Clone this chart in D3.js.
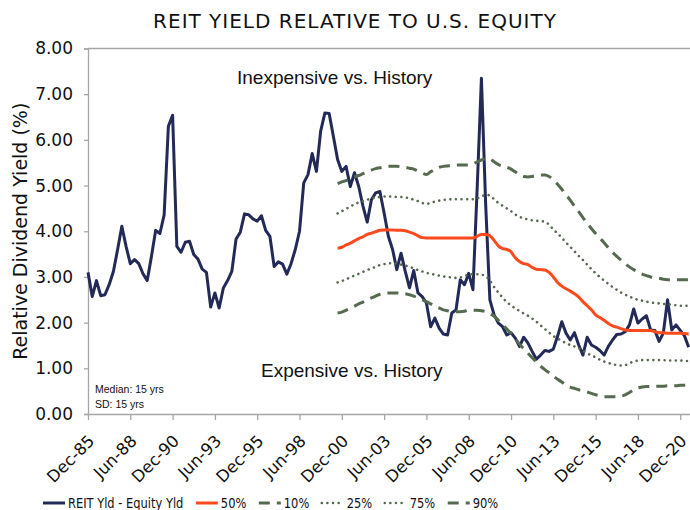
<!DOCTYPE html>
<html><head><meta charset="utf-8">
<script src="https://cdn.jsdelivr.net/npm/d3@7/dist/d3.min.js"></script>
<style>body{margin:0;background:#fff}</style>
</head><body>
<svg id="chart" width="690" height="510"></svg>
<script>
// ---- data (quarterly, Dec-85 .. Jun-21) ----
const tickLabels = ["Dec-85","Jun-88","Dec-90","Jun-93","Dec-95","Jun-98","Dec-00","Jun-03","Dec-05","Jun-08","Dec-10","Jun-13","Dec-15","Jun-18","Dec-20"];
const yTicks = [0,1,2,3,4,5,6,7,8];
const reitYield = [
 3.10,2.57,2.92,2.59,2.61,2.83,3.12,3.60,4.11,3.67,
 3.29,3.38,3.29,3.07,2.92,3.45,4.02,3.95,4.36,6.30,
 6.54,3.67,3.54,3.76,3.78,3.49,3.39,3.17,3.10,2.34,
 2.65,2.32,2.76,2.92,3.12,3.83,3.98,4.38,4.36,4.27,
 4.22,4.34,4.02,3.89,3.23,3.33,3.28,3.06,3.29,3.60,
 4.00,5.06,5.24,5.70,5.31,6.19,6.59,6.58,6.08,5.57,
 5.31,5.42,4.98,5.28,4.98,4.55,4.20,4.69,4.84,4.87,
 4.40,3.89,3.60,3.16,3.52,3.12,2.76,3.14,2.65,2.57,
 2.43,1.91,2.10,1.88,1.75,1.73,2.21,2.28,2.94,2.83,
 3.08,2.72,4.95,7.35,4.60,2.50,2.17,1.99,1.91,1.73,
 1.78,1.66,1.48,1.68,1.55,1.37,1.20,1.29,1.39,1.37,
 1.42,1.70,2.02,1.77,1.62,1.78,1.51,1.29,1.68,1.51,
 1.46,1.39,1.29,1.48,1.62,1.74,1.75,1.80,1.95,2.30,
 1.99,2.08,2.15,1.84,1.83,1.59,1.77,2.50,1.84,1.95,
 1.83,1.71,1.46];
const bandStartIndex = 59; // bands begin Sep-00
const p50 = [
 3.63,3.65,3.70,3.74,3.79,3.84,3.88,3.93,3.96,3.99,
 4.02,4.03,4.03,4.03,4.02,4.02,4.01,3.98,3.95,3.90,
 3.86,3.85,3.85,3.85,3.85,3.85,3.85,3.85,3.85,3.85,
 3.85,3.85,3.85,3.89,3.93,3.93,3.90,3.80,3.68,3.62,
 3.60,3.55,3.42,3.34,3.29,3.27,3.21,3.17,3.16,3.15,
 3.10,3.00,2.88,2.80,2.74,2.69,2.63,2.56,2.46,2.37,
 2.28,2.17,2.11,2.05,1.98,1.93,1.90,1.87,1.84,1.83,
 1.83,1.83,1.83,1.83,1.83,1.80,1.78,1.78,1.77,1.77,
 1.77,1.77,1.76,1.75];
const p10 = [
 2.21,2.23,2.27,2.31,2.36,2.41,2.45,2.50,2.54,2.58,
 2.62,2.64,2.65,2.65,2.65,2.64,2.63,2.61,2.58,2.54,
 2.50,2.46,2.41,2.36,2.32,2.28,2.26,2.24,2.24,2.24,
 2.25,2.27,2.27,2.27,2.26,2.24,2.20,2.14,2.05,1.96,
 1.86,1.76,1.65,1.53,1.43,1.33,1.23,1.14,1.05,0.97,
 0.90,0.83,0.76,0.70,0.63,0.59,0.56,0.53,0.51,0.48,
 0.45,0.42,0.40,0.38,0.38,0.38,0.38,0.39,0.42,0.47,
 0.53,0.57,0.59,0.60,0.60,0.61,0.61,0.61,0.62,0.62,
 0.62,0.63,0.63,0.63];
const p25 = [
 2.88,2.91,2.95,2.99,3.03,3.07,3.11,3.15,3.19,3.22,
 3.26,3.28,3.30,3.30,3.29,3.27,3.25,3.22,3.19,3.15,
 3.12,3.09,3.07,3.05,3.03,3.01,3.00,2.99,2.98,2.99,
 3.02,3.05,3.06,3.06,3.05,3.02,2.92,2.78,2.66,2.55,
 2.45,2.38,2.31,2.26,2.20,2.15,2.09,2.02,1.94,1.86,
 1.78,1.71,1.65,1.60,1.55,1.51,1.48,1.44,1.38,1.33,
 1.28,1.24,1.19,1.15,1.12,1.09,1.07,1.06,1.07,1.11,
 1.15,1.17,1.18,1.18,1.18,1.18,1.18,1.18,1.17,1.17,
 1.17,1.17,1.16,1.16];
const p75 = [
 4.39,4.44,4.49,4.54,4.59,4.63,4.66,4.69,4.72,4.74,
 4.75,4.76,4.76,4.76,4.75,4.75,4.74,4.72,4.69,4.66,
 4.62,4.60,4.62,4.65,4.67,4.69,4.69,4.70,4.70,4.70,
 4.70,4.70,4.70,4.72,4.76,4.80,4.78,4.70,4.62,4.56,
 4.50,4.44,4.37,4.32,4.28,4.26,4.24,4.23,4.22,4.21,
 4.14,4.04,3.95,3.86,3.75,3.66,3.56,3.46,3.37,3.27,
 3.17,3.08,3.00,2.92,2.85,2.78,2.72,2.66,2.61,2.57,
 2.53,2.50,2.48,2.46,2.44,2.43,2.42,2.41,2.40,2.39,
 2.38,2.37,2.37,2.37];
const p90 = [
 5.04,5.08,5.11,5.15,5.19,5.22,5.26,5.30,5.34,5.37,
 5.39,5.41,5.42,5.42,5.42,5.41,5.40,5.38,5.36,5.32,
 5.28,5.24,5.30,5.36,5.40,5.42,5.43,5.44,5.45,5.45,
 5.45,5.45,5.47,5.52,5.56,5.59,5.58,5.52,5.46,5.42,
 5.40,5.36,5.30,5.24,5.20,5.19,5.20,5.22,5.23,5.23,
 5.20,5.12,5.03,4.92,4.80,4.68,4.55,4.43,4.30,4.18,
 4.06,3.95,3.85,3.75,3.64,3.54,3.45,3.37,3.29,3.22,
 3.16,3.11,3.06,3.03,3.00,2.98,2.97,2.95,2.94,2.94,
 2.94,2.94,2.94,2.94];
const seriesNames = ["REIT Yld - Equity Yld","50%","10%","25%","75%","90%"];

(function draw() {
  const NAVY = "#232a57", RED = "#ff4a1e", GREEN = "#566a4f", AXIS = "#a6a6a6";
  const styles = {
    "REIT Yld - Equity Yld": {color: NAVY, width: 3, dash: null, cap: "butt"},
    "50%": {color: RED, width: 3, dash: null, cap: "butt"},
    "10%": {color: GREEN, width: 3, dash: "11,7", cap: "butt"},
    "25%": {color: GREEN, width: 2.6, dash: "0.01,5.6", cap: "round"},
    "75%": {color: GREEN, width: 2.6, dash: "0.01,5.6", cap: "round"},
    "90%": {color: GREEN, width: 3, dash: "11,7", cap: "butt"}
  };

  const svg = d3.select("#chart");
  const pL = 88, pR = 688.7, pT = 48.5, pB = 414;
  const x = d3.scaleLinear().domain([0, reitYield.length - 1]).range([pL, pR]);
  const y = d3.scaleLinear().domain([0, 8]).range([pB, pT]);

  svg.append("text").attr("x", 355).attr("y", 28)
    .attr("text-anchor", "middle")
    .style("font-family", "DejaVu Sans").style("font-size", "20px")
    .style("letter-spacing", "1px").attr("fill", "#111")
    .text("REIT YIELD RELATIVE TO U.S. EQUITY");

  svg.append("line").attr("x1", pL).attr("x2", 690).attr("y1", pT).attr("y2", pT)
    .attr("stroke", AXIS).attr("stroke-width", 1.3);

  const yAxis = svg.append("g").attr("transform", `translate(${pL},0)`)
    .call(d3.axisLeft(y).tickValues(yTicks).tickFormat(d3.format(".2f")).tickSize(4).tickPadding(11));
  yAxis.select(".domain").attr("stroke", AXIS).attr("stroke-width", 1.3);
  yAxis.selectAll(".tick line").attr("stroke", AXIS).attr("stroke-width", 1.3);
  yAxis.selectAll(".tick text").style("font-family", "DejaVu Sans").style("font-size", "17px").attr("fill", "#111");

  const xTickIdx = tickLabels.map((_, i) => i * 10);
  const xAxis = svg.append("g").attr("transform", `translate(0,${pB})`)
    .call(d3.axisBottom(x).tickValues(xTickIdx).tickFormat((d, i) => tickLabels[i]).tickSize(6).tickSizeOuter(0));
  xAxis.select(".domain").attr("stroke", AXIS).attr("stroke-width", 1.3).attr("d", `M${pL},0.5H690`);
  xAxis.selectAll(".tick line").attr("stroke", AXIS).attr("stroke-width", 1.3);
  xAxis.selectAll(".tick text")
    .attr("x", 0).attr("y", 0).attr("dy", 0)
    .attr("text-anchor", "end")
    .attr("transform", "translate(7,28) rotate(-45)")
    .style("font-family", "DejaVu Sans").style("font-size", "16.5px").attr("fill", "#111");

  svg.append("text")
    .attr("transform", `translate(27,${(pT + pB) / 2}) rotate(-90)`)
    .attr("text-anchor", "middle")
    .style("font-family", "DejaVu Sans").style("font-size", "19px").attr("fill", "#111")
    .text("Relative Dividend Yield (%)");

  const annot = svg.append("g").style("font-family", "Liberation Sans").attr("fill", "#111");
  annot.append("text").attr("x", 237).attr("y", 84).style("font-size", "19px").text("Inexpensive vs. History");
  annot.append("text").attr("x", 261).attr("y", 377).style("font-size", "19px").text("Expensive vs. History");
  annot.append("text").attr("x", 95).attr("y", 393).style("font-size", "10.5px").text("Median: 15 yrs");
  annot.append("text").attr("x", 95).attr("y", 408).style("font-size", "10.5px").text("SD: 15 yrs");

  const lineMain = d3.line().x((d, i) => x(i)).y(d => y(d));
  const lineBand = d3.line().x((d, i) => x(i + bandStartIndex)).y(d => y(d)).curve(d3.curveMonotoneX);
  const seriesData = {"REIT Yld - Equity Yld": reitYield, "50%": p50, "10%": p10, "25%": p25, "75%": p75, "90%": p90};
  const plot = svg.append("g");
  seriesNames.forEach(name => {
    const s = styles[name];
    plot.append("path")
      .datum(seriesData[name])
      .attr("d", name === "REIT Yld - Equity Yld" ? lineMain : lineBand)
      .attr("fill", "none").attr("stroke", s.color).attr("stroke-width", s.width)
      .attr("stroke-linejoin", "round").attr("stroke-linecap", s.cap)
      .attr("stroke-dasharray", s.dash);
  });

  // legend (condensed text via horizontal scale)
  const sx = 0.91;
  const legend = svg.append("g").attr("transform", "translate(0,503)");
  let lx = 43;
  seriesNames.forEach(name => {
    const s = styles[name];
    legend.append("line").attr("x1", lx).attr("x2", lx + 22).attr("y1", 0).attr("y2", 0)
      .attr("stroke", s.color).attr("stroke-width", s.width)
      .attr("stroke-linecap", s.cap).attr("stroke-dasharray", s.dash);
    const t = legend.append("text")
      .attr("transform", `translate(${lx + 25},5) scale(${sx},1)`)
      .style("font-family", "'DejaVu Sans Condensed', 'DejaVu Sans', sans-serif")
      .style("font-size", "14px").attr("fill", "#111")
      .text(name);
    lx += 25 + t.node().getComputedTextLength() * sx + 12.5;
  });
})();
</script>
</body></html>
